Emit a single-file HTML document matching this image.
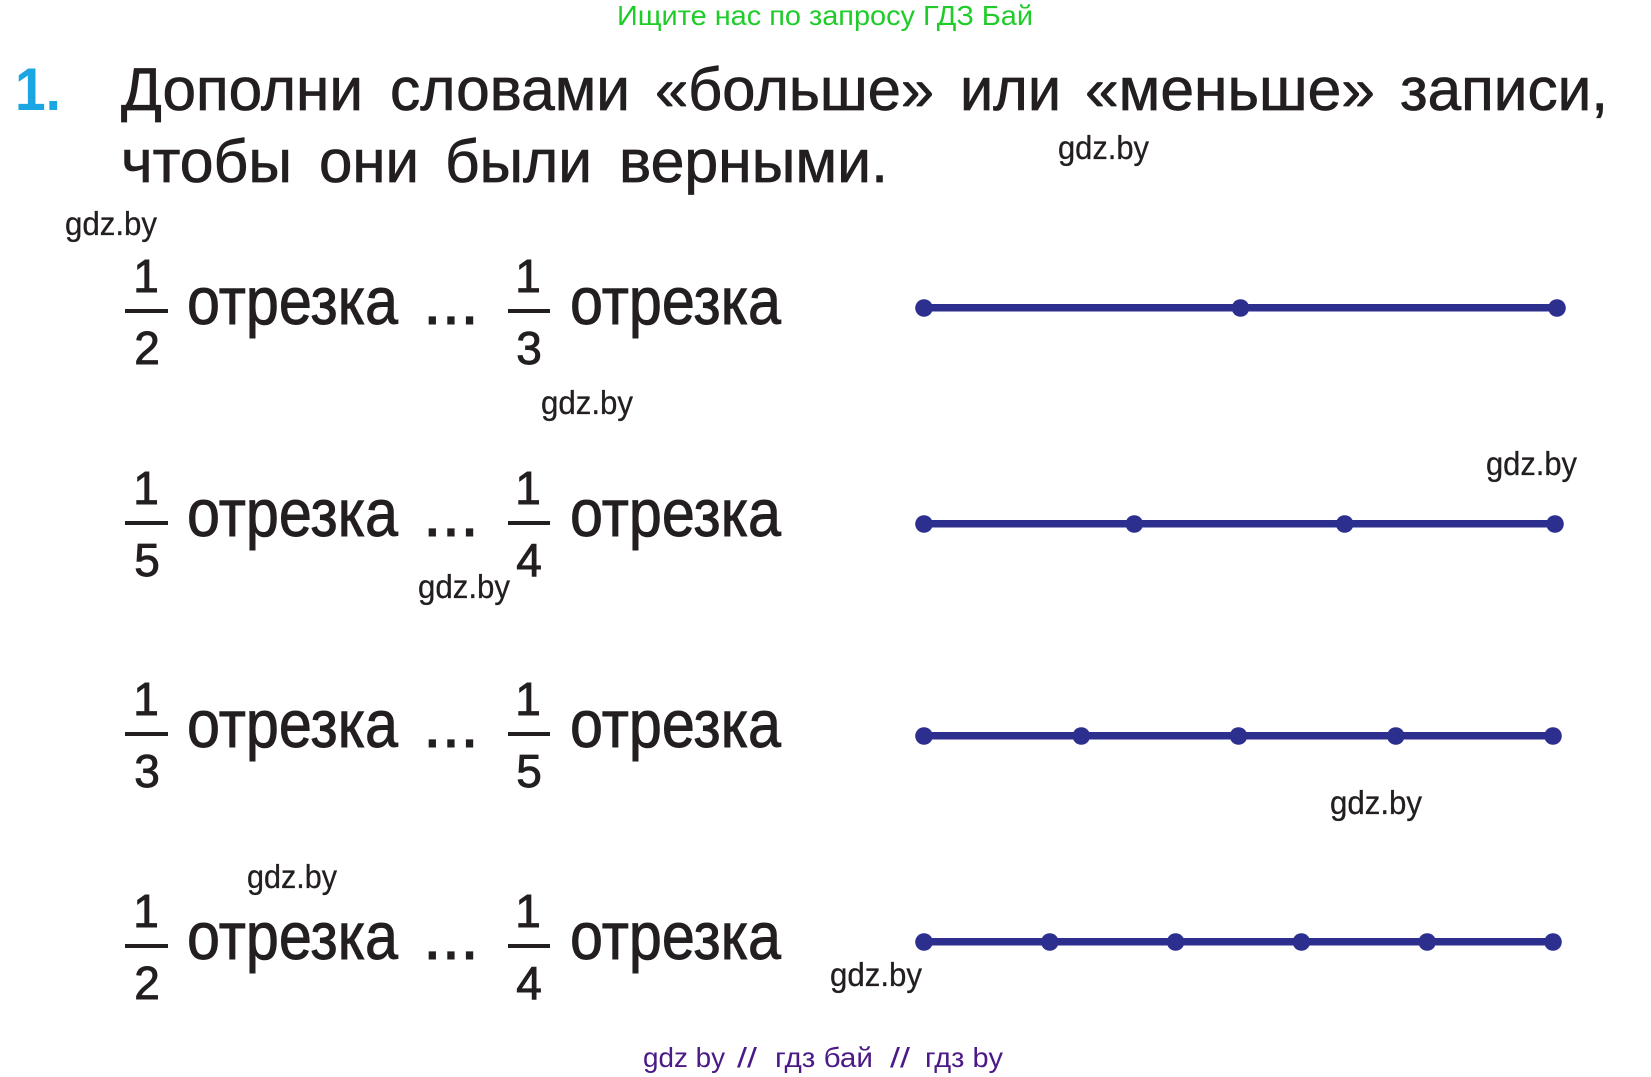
<!DOCTYPE html>
<html>
<head>
<meta charset="utf-8">
<style>
  html, body { margin: 0; padding: 0; background: #ffffff; }
  svg { display: block; }
  .t { font-family: "Liberation Sans", "DejaVu Sans", sans-serif; fill: #231f20; stroke: #231f20; }
  .wm { font-family: "Liberation Sans", "DejaVu Sans", sans-serif; fill: #231f20; font-size: 33px; stroke: #231f20; stroke-width: 0.3px; }
  .big { font-size: 67px; stroke-width: 0.9px; }
  .num { font-size: 46px; stroke-width: 0.9px; }
  .title { font-size: 60px; stroke-width: 0.7px; }
</style>
</head>
<body>
<svg width="1651" height="1077" viewBox="0 0 1651 1077" xmlns="http://www.w3.org/2000/svg">
  <rect width="1651" height="1077" fill="#ffffff"/>

  <!-- header -->
  <text x="617" y="25" font-family="Liberation Sans, DejaVu Sans, sans-serif" font-size="28" fill="#1fcc2a" textLength="416" lengthAdjust="spacingAndGlyphs">Ищите нас по запросу ГДЗ Бай</text>

  <!-- title -->
  <text x="15" y="110" font-family="Liberation Sans, sans-serif" font-weight="bold" font-size="60" fill="#1aa5e3" textLength="46" lengthAdjust="spacingAndGlyphs">1.</text>
  <text class="t title" x="121" y="110" textLength="242" lengthAdjust="spacingAndGlyphs">Дополни</text>
  <text class="t title" x="390" y="110" textLength="240" lengthAdjust="spacingAndGlyphs">словами</text>
  <text class="t title" x="655" y="110" textLength="279" lengthAdjust="spacingAndGlyphs">«больше»</text>
  <text class="t title" x="960" y="110" textLength="101" lengthAdjust="spacingAndGlyphs">или</text>
  <text class="t title" x="1085" y="110" textLength="290" lengthAdjust="spacingAndGlyphs">«меньше»</text>
  <text class="t title" x="1400" y="110" textLength="208" lengthAdjust="spacingAndGlyphs">записи,</text>

  <text class="t title" x="121" y="182" textLength="171" lengthAdjust="spacingAndGlyphs">чтобы</text>
  <text class="t title" x="319" y="182" textLength="100" lengthAdjust="spacingAndGlyphs">они</text>
  <text class="t title" x="445" y="182" textLength="147" lengthAdjust="spacingAndGlyphs">были</text>
  <text class="t title" x="619" y="182" textLength="269" lengthAdjust="spacingAndGlyphs">верными.</text>

  <!-- watermarks -->
  <text class="wm" x="1058" y="159" textLength="91" lengthAdjust="spacingAndGlyphs">gdz.by</text>
  <text class="wm" x="65" y="235" textLength="92" lengthAdjust="spacingAndGlyphs">gdz.by</text>
  <text class="wm" x="541" y="414" textLength="92" lengthAdjust="spacingAndGlyphs">gdz.by</text>
  <text class="wm" x="1486" y="475" textLength="91" lengthAdjust="spacingAndGlyphs">gdz.by</text>
  <text class="wm" x="418" y="598" textLength="92" lengthAdjust="spacingAndGlyphs">gdz.by</text>
  <text class="wm" x="1330" y="814" textLength="92" lengthAdjust="spacingAndGlyphs">gdz.by</text>
  <text class="wm" x="247" y="888" textLength="90" lengthAdjust="spacingAndGlyphs">gdz.by</text>
  <text class="wm" x="830" y="986" textLength="92" lengthAdjust="spacingAndGlyphs">gdz.by</text>

  <!-- ROW 1 (bar y=311) -->
  <g>
    <text class="t num" x="146" y="292" text-anchor="middle">1</text>
    <rect x="125" y="309" width="43" height="4" fill="#231f20"/>
    <text class="t num" x="147" y="364" text-anchor="middle">2</text>
    <text class="t big" x="187" y="324" textLength="211" lengthAdjust="spacingAndGlyphs">отрезка</text>
    <text class="t big" x="423" y="324">...</text>
    <text class="t num" x="528" y="292" text-anchor="middle">1</text>
    <rect x="508" y="309" width="42" height="4" fill="#231f20"/>
    <text class="t num" x="529" y="364" text-anchor="middle">3</text>
    <text class="t big" x="570" y="324" textLength="211" lengthAdjust="spacingAndGlyphs">отрезка</text>
  </g>

  <!-- ROW 2 (bar y=523) -->
  <g>
    <text class="t num" x="146" y="504" text-anchor="middle">1</text>
    <rect x="125" y="521" width="43" height="4" fill="#231f20"/>
    <text class="t num" x="147" y="576" text-anchor="middle">5</text>
    <text class="t big" x="187" y="536" textLength="211" lengthAdjust="spacingAndGlyphs">отрезка</text>
    <text class="t big" x="423" y="536">...</text>
    <text class="t num" x="528" y="504" text-anchor="middle">1</text>
    <rect x="508" y="521" width="42" height="4" fill="#231f20"/>
    <text class="t num" x="529" y="576" text-anchor="middle">4</text>
    <text class="t big" x="570" y="536" textLength="211" lengthAdjust="spacingAndGlyphs">отрезка</text>
  </g>

  <!-- ROW 3 (bar y=734) -->
  <g>
    <text class="t num" x="146" y="715" text-anchor="middle">1</text>
    <rect x="125" y="732" width="43" height="4" fill="#231f20"/>
    <text class="t num" x="147" y="787" text-anchor="middle">3</text>
    <text class="t big" x="187" y="747" textLength="211" lengthAdjust="spacingAndGlyphs">отрезка</text>
    <text class="t big" x="423" y="747">...</text>
    <text class="t num" x="528" y="715" text-anchor="middle">1</text>
    <rect x="508" y="732" width="42" height="4" fill="#231f20"/>
    <text class="t num" x="529" y="787" text-anchor="middle">5</text>
    <text class="t big" x="570" y="747" textLength="211" lengthAdjust="spacingAndGlyphs">отрезка</text>
  </g>

  <!-- ROW 4 (bar y=946) -->
  <g>
    <text class="t num" x="146" y="927" text-anchor="middle">1</text>
    <rect x="125" y="944" width="43" height="4" fill="#231f20"/>
    <text class="t num" x="147" y="999" text-anchor="middle">2</text>
    <text class="t big" x="187" y="959" textLength="211" lengthAdjust="spacingAndGlyphs">отрезка</text>
    <text class="t big" x="423" y="959">...</text>
    <text class="t num" x="528" y="927" text-anchor="middle">1</text>
    <rect x="508" y="944" width="42" height="4" fill="#231f20"/>
    <text class="t num" x="529" y="999" text-anchor="middle">4</text>
    <text class="t big" x="570" y="959" textLength="211" lengthAdjust="spacingAndGlyphs">отрезка</text>
  </g>

  <!-- segments -->
  <g fill="#2d2f8f" stroke="none">
    <rect x="924" y="304" width="633" height="7.5"/>
    <circle cx="924" cy="308" r="8.8"/>
    <circle cx="1240.5" cy="308" r="8.8"/>
    <circle cx="1557" cy="308" r="8.8"/>

    <rect x="924" y="520" width="631" height="7.5"/>
    <circle cx="924" cy="524" r="8.8"/>
    <circle cx="1134.3" cy="524" r="8.8"/>
    <circle cx="1344.7" cy="524" r="8.8"/>
    <circle cx="1555" cy="524" r="8.8"/>

    <rect x="924" y="732" width="629" height="7.5"/>
    <circle cx="924" cy="736" r="8.8"/>
    <circle cx="1081.3" cy="736" r="8.8"/>
    <circle cx="1238.5" cy="736" r="8.8"/>
    <circle cx="1395.8" cy="736" r="8.8"/>
    <circle cx="1553" cy="736" r="8.8"/>

    <rect x="924" y="938" width="629" height="7.5"/>
    <circle cx="924" cy="942" r="8.8"/>
    <circle cx="1049.8" cy="942" r="8.8"/>
    <circle cx="1175.6" cy="942" r="8.8"/>
    <circle cx="1301.4" cy="942" r="8.8"/>
    <circle cx="1427.2" cy="942" r="8.8"/>
    <circle cx="1553" cy="942" r="8.8"/>
  </g>

  <!-- footer -->
  <g font-family="Liberation Sans, DejaVu Sans, sans-serif" font-size="28" fill="#4b1a87">
    <text x="643" y="1067" textLength="82" lengthAdjust="spacingAndGlyphs">gdz by</text>
    <text x="737" y="1067" textLength="20" lengthAdjust="spacingAndGlyphs">//</text>
    <text x="775" y="1067" textLength="98" lengthAdjust="spacingAndGlyphs">гдз бай</text>
    <text x="890" y="1067" textLength="20" lengthAdjust="spacingAndGlyphs">//</text>
    <text x="925" y="1067" textLength="78" lengthAdjust="spacingAndGlyphs">гдз by</text>
  </g>
</svg>
</body>
</html>
